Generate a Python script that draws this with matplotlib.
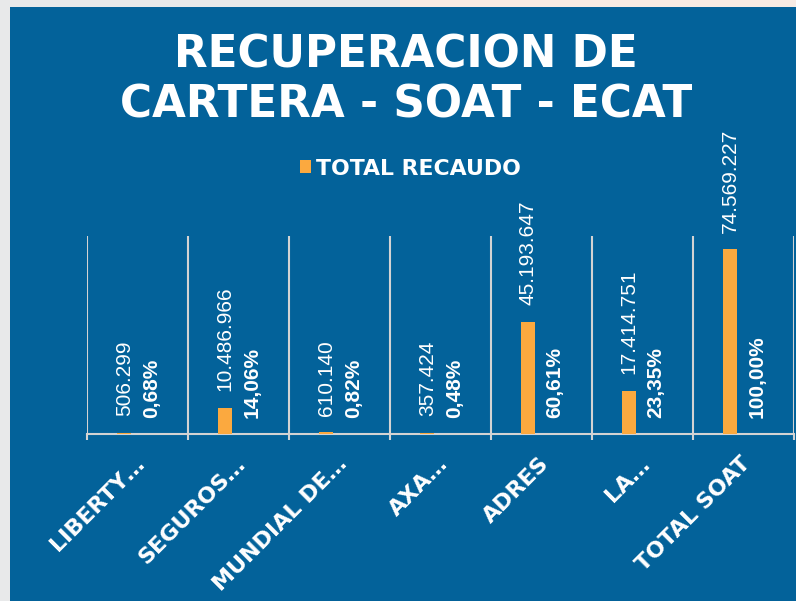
import numpy as np
import matplotlib.pyplot as plt
from matplotlib.patches import Rectangle

# chart data
categories = ['LIBERTY…', 'SEGUROS…', 'MUNDIAL DE…', 'AXA…', 'ADRES', 'LA…', 'TOTAL SOAT']
recaudo = [506299, 10486966, 610140, 357424, 45193647, 17414751, 74569227]
porcentaje = ['0,68%', '14,06%', '0,82%', '0,48%', '60,61%', '23,35%', '100,00%']

W, H = 796, 601
blue = '#03629a'
orange = '#fba93f'
grid_col = '#d3d3d3'

fig = plt.figure(figsize=(W / 100, H / 100), dpi=100)
fig.patch.set_facecolor('#e8e9ea')
# screenshot frame: blue slide area
fig.patches.append(Rectangle((10 / W, 0), 1, 1 - 7 / H, transform=fig.transFigure,
                             facecolor=blue, edgecolor='none', zorder=-2))
fig.patches.append(Rectangle((400 / W, 1 - 7 / H), 1, 7 / H, transform=fig.transFigure,
                             facecolor='#f7ebe4', edgecolor='none', zorder=-2))

ax = fig.add_axes([87 / W, 1 - 434 / H, 707 / W, 198 / H])
ax.set_zorder(1)
ax.set_facecolor('none')
ax.set_xlim(0, 7)
ax.set_ylim(0, 80e6)

x = np.arange(len(categories))
ax.bar(x + 0.37, recaudo, width=0.14, color=orange, zorder=3)

# category separators
ax.set_xticks(np.arange(8))
ax.set_xticklabels([''] * 8)
ax.grid(axis='x', color=grid_col, lw=1.5, zorder=1)
ax.tick_params(axis='x', which='major', length=4, width=1.5, color=grid_col)
ax.set_xticks(x + 0.47, minor=True)
ax.set_xticklabels(categories, minor=True, rotation=45, ha='right', va='top',
                   rotation_mode='anchor', color='white', fontsize=16,
                   fontweight='bold', family='DejaVu Sans')
ax.tick_params(axis='x', which='minor', length=0, pad=14)
ax.set_yticks([])
for s in ['left', 'top', 'right']:
    ax.spines[s].set_visible(False)
ax.spines['bottom'].set_color(grid_col)
ax.spines['bottom'].set_linewidth(1.5)

# data labels
for i, v in enumerate(recaudo):
    ax.annotate(f"{v:,}".replace(',', '.'), xy=(i + 0.37, v), xytext=(0, 12),
                textcoords='offset points', rotation=90, ha='center', va='bottom',
                color='white', fontsize=15, family='Liberation Sans')
    ax.annotate(porcentaje[i], xy=(i + 0.635, 0), xytext=(0, 11.5),
                textcoords='offset points', rotation=90, ha='center', va='bottom',
                color='white', fontsize=15, fontweight='bold', family='Liberation Sans')

# title
fig.text(406 / W, 1 - 68 / H, 'RECUPERACION DE', ha='center', va='baseline',
         color='white', fontsize=31.5, fontweight='bold', family='DejaVu Sans')
fig.text(406 / W, 1 - 117 / H, 'CARTERA - SOAT - ECAT', ha='center', va='baseline',
         color='white', fontsize=31.5, fontweight='bold', family='DejaVu Sans')

# legend
fig.patches.append(Rectangle((300 / W, 1 - 173 / H), 11 / W, 13 / H,
                             transform=fig.transFigure, facecolor=orange,
                             edgecolor='none', zorder=2))
fig.text(316 / W, 1 - 175 / H, 'TOTAL RECAUDO', ha='left', va='baseline',
         color='white', fontsize=15.8, fontweight='bold', family='DejaVu Sans')

fig.savefig('out.png', dpi=100, facecolor=fig.get_facecolor())
